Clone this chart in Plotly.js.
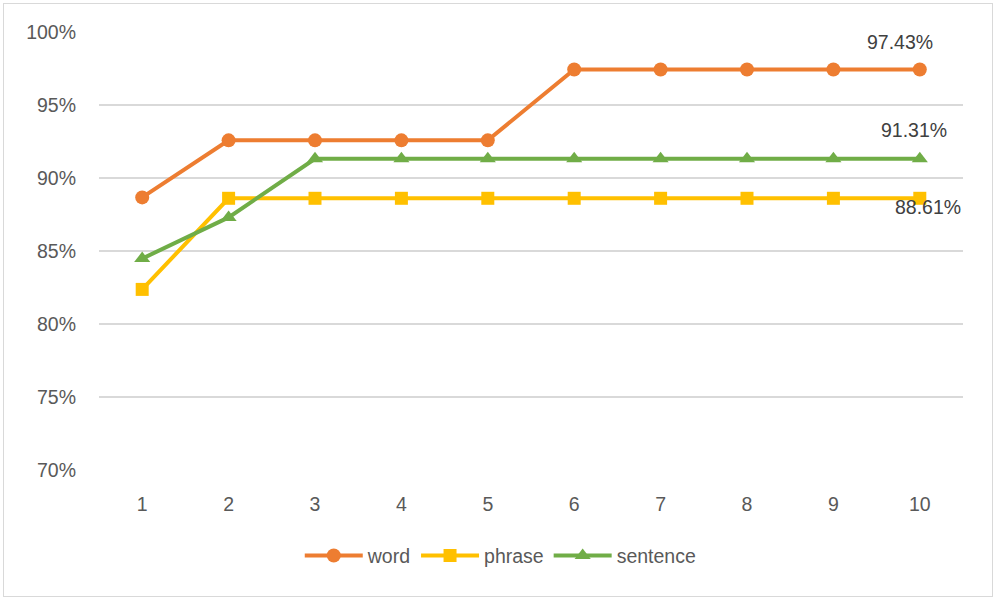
<!DOCTYPE html>
<html>
<head>
<meta charset="utf-8">
<script src="https://cdn.plot.ly/plotly-3.0.1.min.js"></script>
<style>
  body { margin: 0; background: #fff; }
  #wrap { position: relative; width: 996px; height: 600px; }
  #chart { width: 996px; height: 600px; }
  #frame { position: absolute; left: 3px; top: 3px; width: 988px; height: 592px;
           border: 1.5px solid #d9d9d9; pointer-events: none; }
</style>
</head>
<body>
<div id="wrap">
  <div id="chart"></div>
  <div id="frame"></div>
</div>
<script>
const steps = ["1", "2", "3", "4", "5", "6", "7", "8", "9", "10"];
const word = [0.8867, 0.9258, 0.9258, 0.9258, 0.9258, 0.9743, 0.9743, 0.9743, 0.9743, 0.9743];
const phrase = [0.8237, 0.8861, 0.8861, 0.8861, 0.8861, 0.8861, 0.8861, 0.8861, 0.8861, 0.8861];
const sentence = [0.8448, 0.8730, 0.9131, 0.9131, 0.9131, 0.9131, 0.9131, 0.9131, 0.9131, 0.9131];
const yTicks = [0.70, 0.75, 0.80, 0.85, 0.90, 0.95, 1.00];

const fontFamily = "Liberation Sans, Arial, sans-serif";
const gray = "#595959";
const fontSize = 19.5;

function series(name, values, color, symbol, size) {
    return {
        x: steps,
        y: values,
        name: name,
        type: "scatter",
        mode: "lines+markers",
        line: { color: color, width: 4 },
        marker: { color: color, symbol: symbol, size: size },
        hovertemplate: name + " %{x}: %{y:.2%}<extra></extra>"
    };
}

const traces = [
    series("word", word, "#ed7d31", "circle", 14),
    series("phrase", phrase, "#ffc000", "square", 13),
    series("sentence", sentence, "#70ad47", "triangle-up", 14)
];

const last = steps.length - 1;
function endLabel(values, xshift, yshift) {
    return {
        x: last,
        y: values[last],
        xref: "x",
        yref: "y",
        text: (values[last] * 100).toFixed(2) + "%",
        showarrow: false,
        xshift: xshift,
        yshift: yshift,
        font: { family: fontFamily, size: fontSize, color: "#404040" }
    };
}

const layout = {
    width: 996,
    height: 600,
    margin: { l: 99, r: 33, t: 32, b: 130 },
    paper_bgcolor: "#ffffff",
    plot_bgcolor: "#ffffff",
    font: { family: fontFamily, color: gray, size: fontSize },
    xaxis: {
        type: "category",
        range: [-0.5, 9.5],
        showgrid: false,
        zeroline: false,
        showline: false,
        ticks: "",
        ticklabelstandoff: 20,
        tickfont: { family: fontFamily, size: fontSize, color: gray }
    },
    yaxis: {
        range: [0.70, 1.00],
        tickvals: yTicks,
        tickformat: ".0%",
        showgrid: true,
        gridcolor: "#d9d9d9",
        gridwidth: 1.5,
        zeroline: false,
        showline: false,
        ticks: "",
        ticklabelstandoff: 22,
        tickfont: { family: fontFamily, size: fontSize, color: gray }
    },
    showlegend: true,
    legend: {
        orientation: "h",
        x: 0.465,
        xanchor: "center",
        y: -0.196,
        yanchor: "middle",
        font: { family: fontFamily, size: fontSize, color: gray },
        itemwidth: 58,
        tracegroupgap: 0
    },
    annotations: [
        endLabel(word, -20, 28),
        endLabel(sentence, -6, 29),
        endLabel(phrase, 8, -9)
    ]
};

Plotly.newPlot("chart", traces, layout, { displayModeBar: false });
</script>
</body>
</html>
